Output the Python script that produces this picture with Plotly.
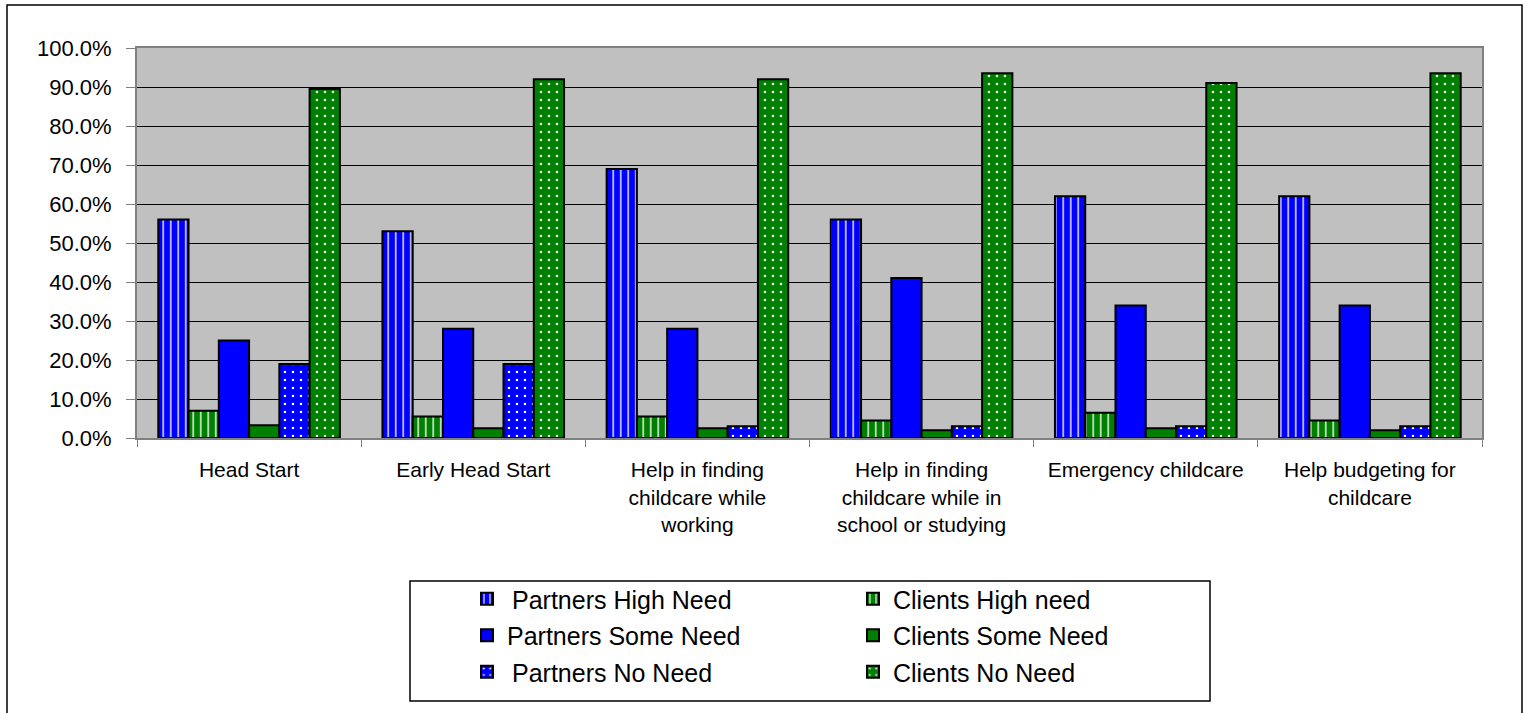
import plotly.graph_objects as go

categories = [
    "Head Start",
    "Early Head Start",
    "Help in finding<br>childcare while<br>working",
    "Help in finding<br>childcare while in<br>school or studying",
    "Emergency childcare",
    "Help budgeting for<br>childcare",
]

partners_high = [56, 53, 69, 56, 62, 62]
clients_high = [7, 5.5, 5.5, 4.5, 6.5, 4.5]
partners_some = [25, 28, 28, 41, 34, 34]
clients_some = [3.3, 2.5, 2.5, 2, 2.5, 2]
partners_no = [19, 19, 3, 3, 3, 3]
clients_no = [89.5, 92, 92, 93.5, 91, 93.5]

BLUE = "#0000FF"
GREEN = "#008000"

series = [
    ("\u2009Partners High Need", partners_high, BLUE, "|", "legend"),
    ("Clients High need", clients_high, GREEN, "|", "legend2"),
    ("Partners Some Need", partners_some, BLUE, "", "legend"),
    ("Clients Some Need", clients_some, GREEN, "", "legend2"),
    ("\u2009Partners No Need", partners_no, BLUE, ".", "legend"),
    ("Clients No Need", clients_no, GREEN, ".", "legend2"),
]

fig = go.Figure()
for i, (name, vals, col, shape, leg) in enumerate(series):
    pattern = dict(shape=shape, fgcolor="white", bgcolor=col, fillmode="replace")
    if shape == "|":
        pattern.update(size=7.5, solidity=0.18)
    elif shape == ".":
        pattern.update(size=8, solidity=0.08)
    fig.add_trace(go.Bar(
        x=categories, y=vals, name=name,
        marker=dict(color=col, line=dict(color="black", width=2), pattern=pattern),
        legend=leg, legendgroup=f"g{i}",
    ))

L, R, T, B = 137, 46, 48, 275
W, H = 1528, 713
pw, ph = W - L - R, H - T - B


def px_x(p):
    return (p - L) / pw


def px_y(p):
    return (H - B - p) / ph


font_family = "Liberation Sans, Arial, sans-serif"

fig.update_layout(
    width=W, height=H,
    margin=dict(l=L, r=R, t=T, b=B),
    paper_bgcolor="white",
    plot_bgcolor="#C0C0C0",
    barmode="group",
    bargap=0.19,
    bargroupgap=0,
    font=dict(family=font_family, color="black", size=21),
    legend=dict(
        x=px_x(467), y=px_y(576), xanchor="left", yanchor="top",
        font=dict(size=25), bgcolor="rgba(0,0,0,0)", tracegroupgap=1,
        orientation="v",
    ),
    legend2=dict(
        x=px_x(853), y=px_y(576), xanchor="left", yanchor="top",
        font=dict(size=25), bgcolor="rgba(0,0,0,0)", tracegroupgap=1,
        orientation="v",
    ),
    xaxis=dict(
        tickson="boundaries", ticks="outside", ticklen=7, tickcolor="#808080",
        showline=True, linecolor="#808080", linewidth=2, mirror=True,
        tickfont=dict(size=21), ticklabelstandoff=12,
    ),
    yaxis=dict(
        range=[0, 100], dtick=10, tickformat=".1f", ticksuffix="%",
        ticks="outside", ticklen=9, tickcolor="#808080",
        showline=True, linecolor="#808080", linewidth=2, mirror=True,
        showgrid=True, gridcolor="black", gridwidth=1,
        zeroline=False, tickfont=dict(size=22), ticklabelstandoff=10,
    ),
    shapes=[
        dict(type="rect", xref="paper", yref="paper",
             x0=px_x(410), x1=px_x(1210), y0=px_y(581), y1=px_y(701),
             line=dict(color="black", width=1.5), fillcolor="rgba(0,0,0,0)"),
        dict(type="rect", xref="paper", yref="paper",
             x0=px_x(7), x1=px_x(1522), y0=px_y(5), y1=px_y(720),
             line=dict(color="black", width=1.5), fillcolor="rgba(0,0,0,0)"),
    ],
)

fig.write_html(
    "out.html",
    config={"displayModeBar": False},
    post_script="document.body.style.margin='0px';",
)
